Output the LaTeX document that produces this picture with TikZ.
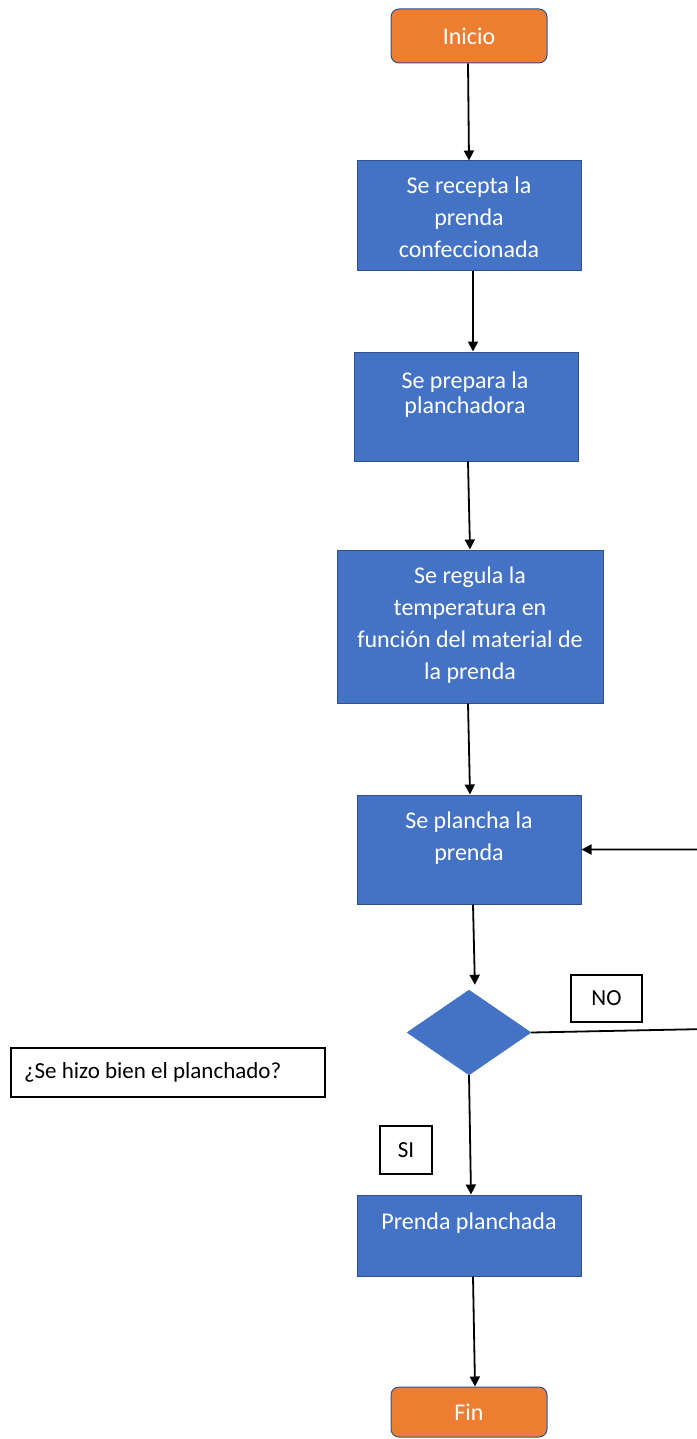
\documentclass[tikz,border=0pt]{standalone}
\usepackage{fontspec}
\setmainfont{Carlito}
\usetikzlibrary{shapes.geometric,arrows.meta}

\definecolor{stepblue}{HTML}{4472C4}
\definecolor{stepedge}{HTML}{2F528F}
\definecolor{termorange}{HTML}{ED7D31}

\tikzset{
  terminal/.style={draw=stepedge, line width=1pt, fill=termorange, rounded corners=8pt,
    minimum width=156pt, inner sep=0pt, text=white, font=\fontsize{24}{28}\selectfont},
  process/.style={draw=stepedge, line width=1pt, fill=stepblue, inner sep=0pt},
  ptext/.style={text=white, align=center, inner sep=0pt, font=\fontsize{24}{32}\selectfont},
  decision/.style={diamond, fill=stepblue, draw=stepblue, inner sep=0pt,
    minimum width=124pt, minimum height=85pt},
  tag/.style={draw=black, line width=1.6pt, fill=white, inner sep=0pt,
    font=\fontsize{23}{26}\selectfont},
  flow/.style={draw=black, line width=1.8pt, -{Triangle[length=10pt,width=10pt]}},
}

\begin{document}
\begin{tikzpicture}[x=1pt, y=-1pt]
  \useasboundingbox (0,0) rectangle (696,1439);

  % start and end
  \node[terminal, minimum height=54pt] (ini) at (469,36) {Inicio};
  \node[terminal, minimum height=50pt] (fin) at (469,1412) {Fin};

  % process steps
  \node[process, minimum width=224pt, minimum height=109pt] (b1) at (469,215.5) {};
  \node[ptext] (t1) at (469,217) {Se recepta la\\prenda\\confeccionada};

  \node[process, minimum width=224pt, minimum height=109pt] (b2) at (466,406.5) {};
  \node[ptext, font=\fontsize{24}{25}\selectfont] (t2) at (465,394.5) {Se prepara la\\planchadora};

  \node[process, minimum width=266pt, minimum height=153pt] (b3) at (470,626.5) {};
  \node[ptext] (t3) at (470,625.5) {Se regula la\\temperatura en\\función del material de\\la prenda};

  \node[process, minimum width=224pt, minimum height=109pt] (b4) at (469,849.5) {};
  \node[ptext] (t4) at (469,838) {Se plancha la\\prenda};

  \node[process, minimum width=224pt, minimum height=81pt] (b5) at (469,1235.5) {};
  \node[ptext] (t5) at (469,1223) {Prenda planchada};

  % decision
  \node[decision] (dia) at (469,1032.5) {};

  % labels
  \node[tag, minimum width=71pt, minimum height=47pt] (no) at (606.5,998.5) {NO};
  \node[tag, minimum width=52pt, minimum height=48pt] (si) at (406,1150) {SI};
  \node[tag, minimum width=314pt, minimum height=49pt, text width=288pt, align=flush left,
    inner xsep=13pt] (q) at (168,1072.5) {¿Se hizo bien el planchado?};

  % main flow
  \draw[flow] ([xshift=-1pt]ini.south) -- (b1.north);
  \draw[flow] ([xshift=4pt]b1.south) -- ([xshift=7pt]b2.north);
  \draw[flow] ([xshift=2pt]b2.south) -- (b3.north);
  \draw[flow] ([xshift=-2pt]b3.south) -- ([xshift=1pt]b4.north);
  \draw[flow, shorten >=5pt] ([xshift=4pt]b4.south) -- ([xshift=6pt]dia.north);
  \draw[flow] (dia.south) -- ([xshift=2pt]b5.north);
  \draw[flow] ([xshift=4pt]b5.south) -- ([xshift=6pt]fin.north);

  % return loop on the NO branch
  \coordinate (r1) at (706,1029);
  \coordinate (r2) at (706,849.5);
  \draw[flow] (dia.east) -- (r1) -- (r2) -- (b4.east);
\end{tikzpicture}
\end{document}
